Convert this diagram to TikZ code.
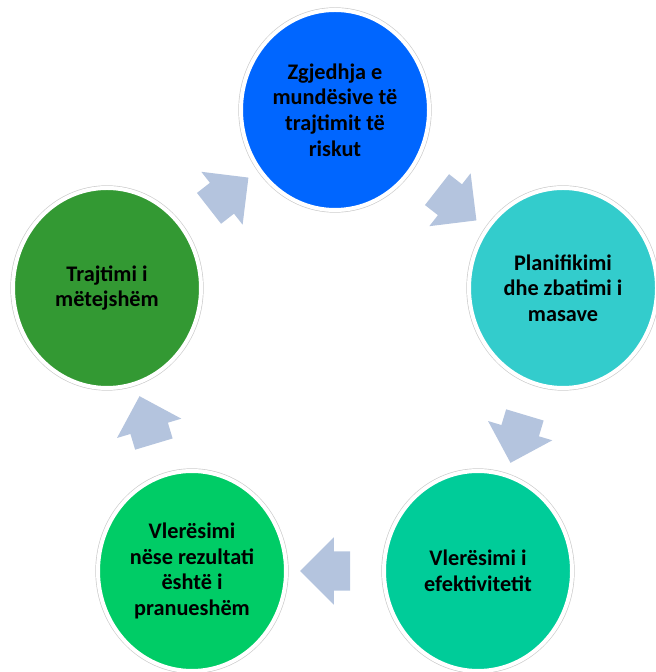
\documentclass[tikz,border=0pt]{standalone}
\usepackage{fontspec}
\setmainfont{Carlito}
\usetikzlibrary{shapes.geometric,shapes.arrows}
\definecolor{stageblue}{RGB}{0,102,255}
\definecolor{stagecyan}{RGB}{51,204,204}
\definecolor{stageteal}{RGB}{0,204,153}
\definecolor{stagegreen}{RGB}{0,204,102}
\definecolor{stagedark}{RGB}{51,153,51}
\definecolor{flowgray}{RGB}{180,196,222}

\begin{document}
\begin{tikzpicture}[
  stage/.style={ellipse,minimum width=5.64cm,minimum height=6cm,inner sep=0pt,
    draw=white,line width=0.12cm,preaction={draw=black!20,line width=0.16cm},
    align=center,font=\fontsize{19}{21.8}\selectfont\bfseries},
  flow/.style={single arrow,fill=flowgray,single arrow head extend=0.42cm,
    minimum height=1.5cm,minimum width=2cm,inner xsep=0pt,inner ysep=0.58cm,
    sloped,allow upside down}]
  \useasboundingbox (0,0) rectangle (19.65,20.16);
  % the five stages
  \node[stage,fill=stageblue] (choice) at (10.05,16.86) {Zgjedhja e\\mundësive të\\trajtimit të\\riskut};
  \node[stage,fill=stagecyan] (planning) at (16.89,11.52) {Planifikimi\\dhe zbatimi i\\masave};
  \node[stage,fill=stageteal] (review) at (14.34,3.03) {Vlerësimi i\\efektivitetit};
  \node[stage,fill=stagegreen] (accept) at (5.76,3.03) {Vlerësimi\\nëse rezultati\\është i\\pranueshëm};
  \node[stage,fill=stagedark] (further) at (3.21,11.52) {Trajtimi i\\mëtejshëm};
  % block arrows between them
  \path (choice) -- (planning) node[flow,midway] (f1) {};
  \path (planning) -- (review) node[flow,midway] (f2) {};
  \path (review) -- (accept) node[flow,midway] (f3) {};
  \path (accept) -- (further) node[flow,midway] (f4) {};
  \path (further) -- (choice) node[flow,midway] (f5) {};
\end{tikzpicture}
\end{document}
